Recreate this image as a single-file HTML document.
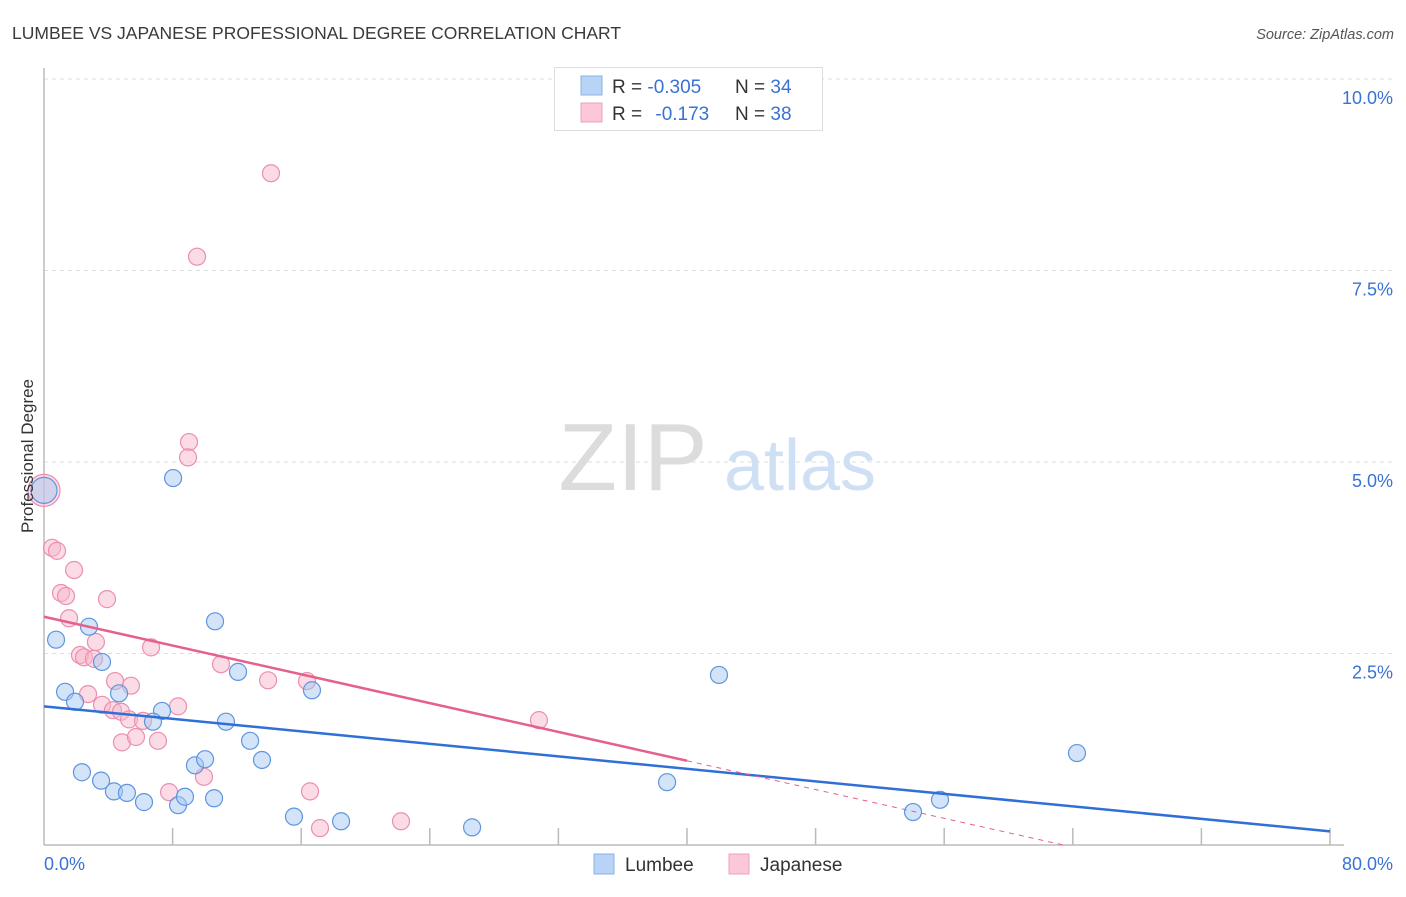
<!DOCTYPE html>
<html><head><meta charset="utf-8">
<style>
body{margin:0;background:#fff;font-family:"Liberation Sans",sans-serif;}
svg text{font-family:"Liberation Sans",sans-serif;}
</style></head>
<body>
<svg id="chart" width="1406" height="892" viewBox="0 0 1406 892" xmlns="http://www.w3.org/2000/svg">
<text x="12" y="39" font-size="17.5" fill="#3a3a3a">LUMBEE VS JAPANESE PROFESSIONAL DEGREE CORRELATION CHART</text>
<text x="1394" y="39" font-size="14.5" fill="#555" font-style="italic" text-anchor="end">Source: ZipAtlas.com</text>
<g id="grid"></g>
<g>
<text x="633" y="490" font-size="96" fill="#dcdcdc" font-family="Liberation Serif,serif" text-anchor="middle">ZIP</text>
<text x="800" y="490" font-size="72" fill="#cfe0f5" text-anchor="middle">atlas</text>
</g>
<g id="axes"></g>
<g id="marks"></g>
<g id="trends"></g>
<text transform="translate(33,456) rotate(-90)" font-size="17" fill="#333" text-anchor="middle">Professional Degree</text>
<g>
<rect x="554.5" y="67.5" width="268" height="63" fill="#fff" stroke="#ddd"/>
<rect x="581" y="76" width="21" height="19" fill="#b8d3f5" stroke="#88b0e6"/>
<rect x="581" y="103" width="21" height="19" fill="#fcc8d8" stroke="#f0a0bb"/>
<text x="612" y="93" font-size="19" fill="#333">R = <tspan fill="#3a72d4">-0.305</tspan></text>
<text x="735" y="93" font-size="19" fill="#333">N = <tspan fill="#3a72d4">34</tspan></text>
<text x="612" y="120" font-size="19" fill="#333">R = <tspan fill="#3a72d4" dx="8">-0.173</tspan></text>
<text x="735" y="120" font-size="19" fill="#333">N = <tspan fill="#3a72d4">38</tspan></text>
</g>
<g>
<rect x="594" y="854" width="20" height="20" fill="#b8d3f5" stroke="#88b0e6"/>
<text x="625" y="871" font-size="19" fill="#333">Lumbee</text>
<rect x="729" y="854" width="20" height="20" fill="#fcc8d8" stroke="#f0a0bb"/>
<text x="760" y="871" font-size="19" fill="#333">Japanese</text>
</g>
</svg>
<script>
const yTicks=[2.5,5.0,7.5,10.0];
const yTickLabels=["2.5%","5.0%","7.5%","10.0%"];
const xTickValues=[8,16,24,32,40,48,56,64,72,80];
const lumbeeX=[0,8.03,0.75,2.80,3.61,1.31,1.93,2.36,3.55,4.35,5.16,6.22,4.67,7.34,6.78,8.34,8.77,9.39,10.02,10.58,10.64,11.32,12.07,12.82,13.56,15.55,16.67,18.48,26.63,38.76,41.99,54.06,55.74,64.26];
const lumbeeY=[4.63,4.79,2.68,2.85,2.39,2.00,1.87,0.95,0.84,0.70,0.68,0.56,1.98,1.75,1.61,0.52,0.63,1.04,1.12,0.61,2.92,1.61,2.26,1.36,1.11,0.37,2.02,0.31,0.23,0.82,2.22,0.43,0.59,1.20];
const japX=[0,14.12,9.52,9.02,8.96,0.50,0.81,1.87,1.06,1.37,3.92,1.56,3.23,2.24,2.49,3.11,6.66,4.42,5.41,2.74,3.61,4.29,4.79,5.29,6.16,4.85,5.72,7.09,8.34,11.01,13.94,16.36,9.95,7.78,16.55,17.17,22.21,30.79];
const japY=[4.63,8.77,7.68,5.26,5.06,3.88,3.84,3.59,3.29,3.25,3.21,2.96,2.65,2.48,2.45,2.43,2.58,2.14,2.08,1.97,1.83,1.76,1.74,1.64,1.62,1.34,1.41,1.36,1.81,2.36,2.15,2.14,0.89,0.69,0.70,0.22,0.31,1.63];
const lumbeeFit=[1.81,-0.0204];
const japFit=[2.98,-0.047];
const X0=44,X1=1330,Y0=845,YS=76.6;
const sx=v=>X0+(X1-X0)*v/80, sy=v=>Y0-v*YS;
const NS="http://www.w3.org/2000/svg";
function mk(parent,tag,attrs){const e=document.createElementNS(NS,tag);for(const k in attrs)e.setAttribute(k,attrs[k]);document.getElementById(parent).appendChild(e);return e;}
yTicks.forEach((t,i)=>{
  const l=mk('grid','line',{x1:X0,x2:1394,y1:sy(t),y2:sy(t),stroke:'#ddd','stroke-dasharray':'4,4'});
  
  
  const tx=mk('axes','text',{x:1393,y:sy(t)+25,'font-size':18,fill:'#3a72d4','text-anchor':'end'});
  tx.textContent=yTickLabels[i];
  
  
});
mk('axes','line',{x1:X0,x2:X0,y1:68,y2:Y0,stroke:'#bbb','stroke-width':1.5});
mk('axes','line',{x1:X0,x2:X1+14,y1:Y0,y2:Y0,stroke:'#bbb','stroke-width':1.5});
xTickValues.forEach(v=>{const t=mk('axes','line',{x1:sx(v),x2:sx(v),y1:Y0,y2:Y0-17,stroke:'#bbb','stroke-width':1.5});
  
  });
let a=mk('axes','text',{x:44,y:870,'font-size':18,fill:'#3a72d4'});a.textContent='0.0%';
let b=mk('axes','text',{x:1393,y:870,'font-size':18,fill:'#3a72d4','text-anchor':'end'});b.textContent='80.0%';
function dots(xs,ys,fill,stroke,name){xs.forEach((x,i)=>{const big=i===0;
  const c=mk('marks','circle',{cx:sx(x),cy:sy(ys[i]),r:big?(name==='japanese-point'?16:13):8.5,fill:fill,'fill-opacity':0.5,stroke:stroke,'stroke-width':1.2});
  
  });}
dots(japX,japY,'#f8b8cc','#ec8fae','japanese-point');
dots(lumbeeX,lumbeeY,'#a8c8f2','#5f95df','lumbee-point');
let lb=mk('trends','line',{x1:sx(0),y1:sy(lumbeeFit[0]),x2:sx(80),y2:sy(lumbeeFit[0]+lumbeeFit[1]*80),stroke:'#2f6fd6','stroke-width':2.5});


let lj=mk('trends','line',{x1:sx(0),y1:sy(japFit[0]),x2:sx(40),y2:sy(japFit[0]+japFit[1]*40),stroke:'#e5608c','stroke-width':2.5});


const xe=-japFit[0]/japFit[1];
let ld=mk('trends','line',{x1:sx(40),y1:sy(japFit[0]+japFit[1]*40),x2:sx(xe),y2:sy(0),stroke:'#e5608c','stroke-width':1,'stroke-dasharray':'5,5'});


</script>
</body></html>
